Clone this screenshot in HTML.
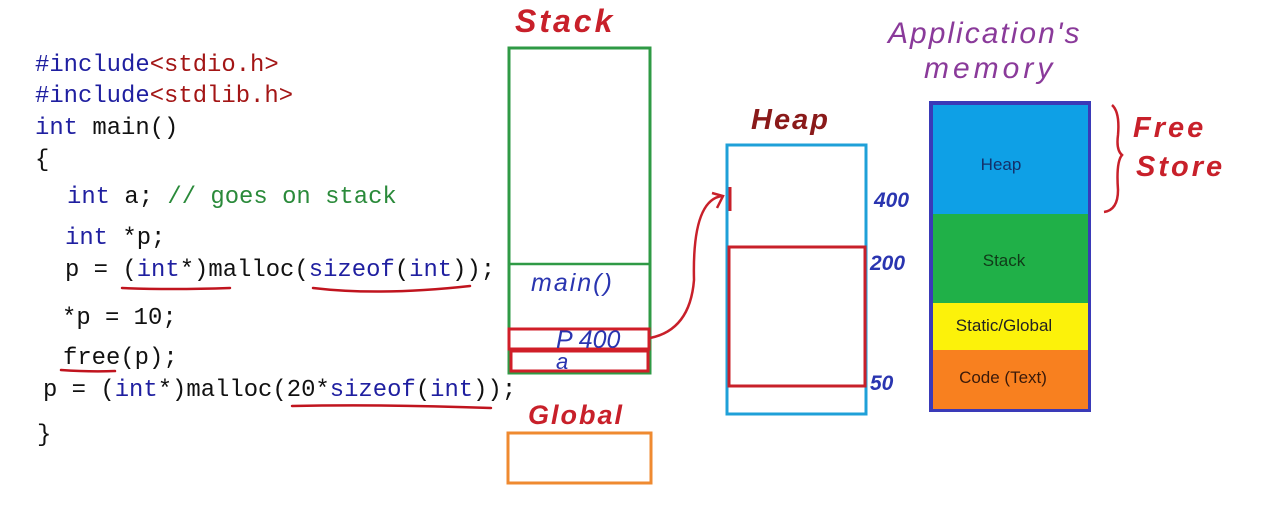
<!DOCTYPE html>
<html><head><meta charset="utf-8">
<style>
html,body{margin:0;padding:0;background:#fff;}
body{width:1280px;height:506px;overflow:hidden;position:relative;}
svg{position:absolute;left:0;top:0;}
.c{font-family:"Liberation Mono",monospace;font-size:23.9px;}
.k{fill:#1f1fa0}.s{fill:#a31515}.g{fill:#2a8a3a}.b{fill:#111}
.h{font-family:"Liberation Sans",sans-serif;font-style:italic;}
</style></head><body>
<svg width="1280" height="506" viewBox="0 0 1280 506" xmlns="http://www.w3.org/2000/svg">
<g class="c">
<text x="35" y="71"><tspan class="k">#include</tspan><tspan class="s">&lt;stdio.h&gt;</tspan></text>
<text x="35" y="102"><tspan class="k">#include</tspan><tspan class="s">&lt;stdlib.h&gt;</tspan></text>
<text x="35" y="134"><tspan class="k">int</tspan><tspan class="b"> main()</tspan></text>
<text x="35" y="166" class="b">{</text>
<text x="67" y="203"><tspan class="k">int</tspan><tspan class="b"> a; </tspan><tspan class="g">// goes on stack</tspan></text>
<text x="65" y="244"><tspan class="k">int</tspan><tspan class="b"> *p;</tspan></text>
<text x="65" y="276"><tspan class="b">p = (</tspan><tspan class="k">int</tspan><tspan class="b">*)malloc(</tspan><tspan class="k">sizeof</tspan><tspan class="b">(</tspan><tspan class="k">int</tspan><tspan class="b">));</tspan></text>
<text x="62" y="324" class="b">*p = 10;</text>
<text x="63" y="364" class="b">free(p);</text>
<text x="43" y="396"><tspan class="b">p = (</tspan><tspan class="k">int</tspan><tspan class="b">*)malloc(20*</tspan><tspan class="k">sizeof</tspan><tspan class="b">(</tspan><tspan class="k">int</tspan><tspan class="b">));</tspan></text>
<text x="37" y="441" class="b">}</text>
</g>
<g stroke="#c0141e" stroke-width="2.5" fill="none" stroke-linecap="round">
<path d="M122 288 Q170 290 230 288"/>
<path d="M313 288 Q380 296 470 286"/>
<path d="M61 370 Q90 372 115 371"/>
<path d="M292 406 Q380 404 491 408"/>
</g>
<text x="515" y="32" class="h" font-size="32" fill="#c8202a" letter-spacing="3" font-weight="bold">Stack</text>
<rect x="509" y="48" width="141" height="325" fill="none" stroke="#2f9a45" stroke-width="3"/>
<line x1="509" y1="264" x2="650" y2="264" stroke="#2f9a45" stroke-width="2.5"/>
<text x="531" y="291" class="h" font-size="25" fill="#2a35b0" letter-spacing="2">main()</text>
<rect x="509" y="329" width="140" height="20" fill="none" stroke="#d01e28" stroke-width="3"/>
<rect x="511" y="351" width="137" height="20" fill="none" stroke="#d01e28" stroke-width="3"/>
<text x="556" y="348" class="h" font-size="25" fill="#2a35b0">P 400</text>
<text x="556" y="369" class="h" font-size="22" fill="#2a35b0">a</text>
<text x="528" y="424" class="h" font-size="27" fill="#c8202a" letter-spacing="2" font-weight="bold">Global</text>
<rect x="508" y="433" width="143" height="50" fill="none" stroke="#ef8a30" stroke-width="3"/>
<text x="751" y="129" class="h" font-size="29" fill="#8a1a1a" letter-spacing="2" font-weight="bold">Heap</text>
<rect x="727" y="145" width="139" height="269" fill="none" stroke="#1fa0d8" stroke-width="3"/>
<rect x="729" y="247" width="136" height="139" fill="none" stroke="#c8202a" stroke-width="3"/>
<line x1="730" y1="187" x2="730" y2="211" stroke="#c8202a" stroke-width="3"/>
<path d="M650 338 Q690 330 694 280 Q692 200 722 196" fill="none" stroke="#c8202a" stroke-width="2.5"/>
<path d="M712 193 L723 196 L717 208" fill="none" stroke="#c8202a" stroke-width="2.5"/>
<g class="h" font-size="21" fill="#2a35b0" font-weight="bold">
<text x="874" y="207">400</text>
<text x="870" y="270">200</text>
<text x="870" y="390">50</text>
</g>
<text x="888" y="43" class="h" font-size="30" fill="#8a3a9a" letter-spacing="2">Application's</text>
<text x="924" y="78" class="h" font-size="30" fill="#8a3a9a" letter-spacing="4">memory</text>
<rect x="929" y="101" width="162" height="311" fill="#3a3ab8"/>
<rect x="933" y="105" width="155" height="109" fill="#0ea0e6"/>
<rect x="933" y="214" width="155" height="89" fill="#20b048"/>
<rect x="933" y="303" width="155" height="47" fill="#fcf20a"/>
<rect x="933" y="350" width="155" height="59" fill="#f8801f"/>
<g font-family="Liberation Sans,sans-serif" font-size="17" text-anchor="middle">
<text x="1001" y="170" fill="#14306a">Heap</text>
<text x="1004" y="266" fill="#103a18">Stack</text>
<text x="1004" y="331" fill="#222">Static/Global</text>
<text x="1003" y="383" fill="#3a1a0a">Code (Text)</text>
</g>
<path d="M1112 105 Q1120 112 1118 135 Q1116 150 1122 155 Q1116 162 1118 190 Q1118 210 1104 212" fill="none" stroke="#c8202a" stroke-width="2.5"/>
<text x="1133" y="137" class="h" font-size="29" fill="#c8202a" letter-spacing="3" font-weight="bold">Free</text>
<text x="1136" y="176" class="h" font-size="29" fill="#c8202a" letter-spacing="3" font-weight="bold">Store</text>
</svg>
</body></html>
